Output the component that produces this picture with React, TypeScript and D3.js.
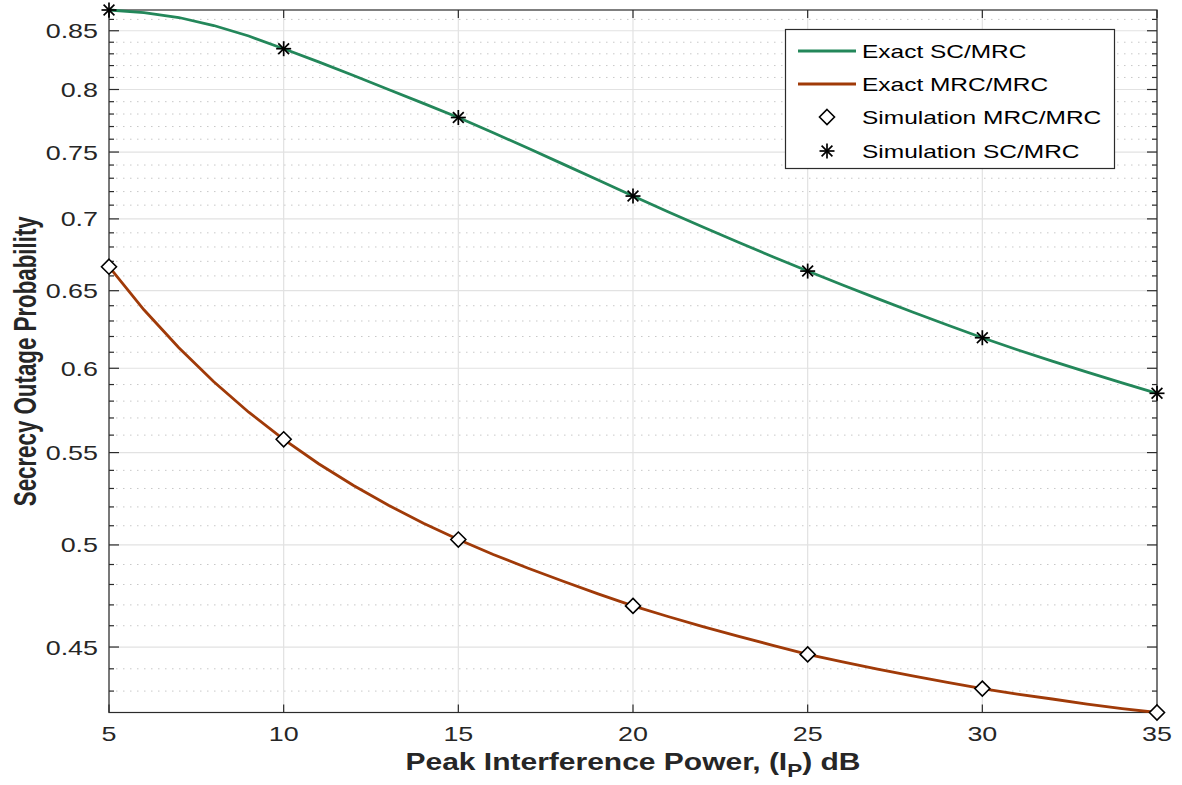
import React from "react";
import * as d3 from "d3";

// ---- data ----
const peakPower = [5, 6, 7, 8, 9, 10, 11, 12, 13, 14, 15, 16, 17, 18, 19, 20, 21, 22, 23, 24, 25, 26, 27, 28, 29, 30, 31, 32, 33, 34, 35];
const exactSC = [0.8684, 0.8661, 0.8617, 0.8546, 0.8454, 0.8344, 0.8231, 0.8116, 0.8000, 0.7886, 0.7772, 0.7651, 0.7529, 0.7407, 0.7286, 0.7167, 0.7052, 0.6942, 0.6835, 0.6732, 0.6633, 0.6538, 0.6447, 0.6359, 0.6274, 0.6192, 0.6116, 0.6044, 0.5976, 0.5910, 0.5847];
const exactMRC = [0.6663, 0.6373, 0.6128, 0.5917, 0.5734, 0.5576, 0.5437, 0.5316, 0.5209, 0.5113, 0.5028, 0.4951, 0.4881, 0.4816, 0.4754, 0.4695, 0.4644, 0.4596, 0.4551, 0.4508, 0.4466, 0.4432, 0.4399, 0.4368, 0.4339, 0.4311, 0.4287, 0.4265, 0.4243, 0.4223, 0.4206];
const simPower = [5, 10, 15, 20, 25, 30, 35];
const simMRC = [0.6663, 0.5576, 0.5028, 0.4695, 0.4466, 0.4311, 0.4206];
const simSC = [0.8684, 0.8344, 0.7772, 0.7167, 0.6633, 0.6192, 0.5847];

const xTicks = [5, 10, 15, 20, 25, 30, 35];
const yTicks = [0.45, 0.5, 0.55, 0.6, 0.65, 0.7, 0.75, 0.8, 0.85];
const yTickLabels = ["0.45", "0.5", "0.55", "0.6", "0.65", "0.7", "0.75", "0.8", "0.85"];
const yMinorTicks = [0.43, 0.44, 0.46, 0.47, 0.48, 0.49, 0.51, 0.52, 0.53, 0.54, 0.56, 0.57, 0.58, 0.59, 0.61, 0.62, 0.63, 0.64, 0.66, 0.67, 0.68, 0.69, 0.71, 0.72, 0.73, 0.74, 0.76, 0.77, 0.78, 0.79, 0.81, 0.82, 0.83, 0.84, 0.86];
const yDomain = [0.4206, 0.8684];
const xDomain = [5, 35];

const legendLabels = ["Exact SC/MRC", "Exact MRC/MRC", "Simulation MRC/MRC", "Simulation SC/MRC"];
const xLabel = "Peak Interference Power, (I";
const yLabel = "Secrecy Outage Probability";

// ---- style ----
const W = 1182;
const H = 785;
const L = 109, R = 1157, T = 10, B = 712.5;
const GREEN = "#23875a";
const BROWN = "#a03a08";
const AXIS = "#2b2b2b";
const FONT = "'Liberation Sans', Arial, Helvetica, sans-serif";
const SX = 1.28;

function Diamond({ x, y }: { x: number; y: number }) {
  const r = 7.5;
  return (
    <path
      d={`M${x},${y - r}L${x + r},${y}L${x},${y + r}L${x - r},${y}Z`}
      fill="#fff"
      stroke="#000"
      strokeWidth={1.6}
    />
  );
}

function Star({ x, y }: { x: number; y: number }) {
  const r = 7.5;
  const d = r * 0.72;
  return (
    <g stroke="#000" strokeWidth={1.7}>
      <line x1={x - r} y1={y} x2={x + r} y2={y} />
      <line x1={x} y1={y - r} x2={x} y2={y + r} />
      <line x1={x - d} y1={y - d} x2={x + d} y2={y + d} />
      <line x1={x - d} y1={y + d} x2={x + d} y2={y - d} />
    </g>
  );
}

export default function App() {
  const x = d3.scaleLinear().domain(xDomain).range([L, R]);
  const y = d3.scaleLog().domain(yDomain).range([B, T]);

  const line = d3
    .line<number>()
    .x((_, i) => x(peakPower[i]))
    .y((v) => y(v));

  const legX = 785.5, legY = 29.5, legW = 329, legH = 139;
  const rowY = [51, 84, 117, 151];

  return (
    <svg
      width={W}
      height={H}
      style={{ position: "absolute", left: 0, top: 0, background: "#fff" }}
      fontFamily={FONT}
    >
      <rect x={0} y={0} width={W} height={H} fill="#fff" />
      {/* minor grid */}
      {yMinorTicks.map((t) => (
        <line key={"mg" + t} x1={L} x2={R} y1={y(t)} y2={y(t)} stroke="#c8c8c8" strokeWidth={1} strokeDasharray="1.5,5.5" />
      ))}
      {/* major grid */}
      {yTicks.map((t) => (
        <line key={"yg" + t} x1={L} x2={R} y1={y(t)} y2={y(t)} stroke="#e2e2e2" strokeWidth={1.2} />
      ))}
      {xTicks.map((t) => (
        <line key={"xg" + t} x1={x(t)} x2={x(t)} y1={T} y2={B} stroke="#e2e2e2" strokeWidth={1.2} />
      ))}

      {/* axes box */}
      <rect x={L} y={T} width={R - L} height={B - T} fill="none" stroke={AXIS} strokeWidth={1.2} />
      {xTicks.map((t) => (
        <g key={"xt" + t} stroke={AXIS} strokeWidth={1.2}>
          <line x1={x(t)} x2={x(t)} y1={B} y2={B - 8} />
          <line x1={x(t)} x2={x(t)} y1={T} y2={T + 8} />
        </g>
      ))}
      {yTicks.map((t) => (
        <g key={"yt" + t} stroke={AXIS} strokeWidth={1.2}>
          <line x1={L} x2={L + 10} y1={y(t)} y2={y(t)} />
          <line x1={R} x2={R - 10} y1={y(t)} y2={y(t)} />
        </g>
      ))}
      {yMinorTicks.map((t) => (
        <g key={"ym" + t} stroke={AXIS} strokeWidth={1.2}>
          <line x1={L} x2={L + 5} y1={y(t)} y2={y(t)} />
          <line x1={R} x2={R - 5} y1={y(t)} y2={y(t)} />
        </g>
      ))}

      {/* tick labels */}
      {xTicks.map((t) => (
        <text
          key={"xl" + t}
          transform={`translate(${x(t)},${741}) scale(${SX},1)`}
          textAnchor="middle"
          fontSize={21}
          fill="#262626"
        >
          {t}
        </text>
      ))}
      {yTicks.map((t, i) => (
        <text
          key={"yl" + t}
          transform={`translate(${98},${y(t) + 7.5}) scale(${SX},1)`}
          textAnchor="end"
          fontSize={21}
          fill="#262626"
        >
          {yTickLabels[i]}
        </text>
      ))}

      {/* axis labels */}
      <text
        transform={`translate(${(L + R) / 2},${770}) scale(1.25,1)`}
        textAnchor="middle"
        fontSize={24}
        fontWeight="bold"
        fill="#262626"
      >
        {xLabel}
        <tspan fontSize={18} dy={7}>P</tspan>
        <tspan dy={-7}>) dB</tspan>
      </text>
      <text
        transform={`translate(${36},${(T + B) / 2}) scale(1.4,1) rotate(-90)`}
        textAnchor="middle"
        fontSize={22}
        fontWeight="bold"
        fill="#262626"
        textLength={290}
        lengthAdjust="spacingAndGlyphs"
      >
        {yLabel}
      </text>

      {/* curves */}
      <path d={line(exactSC) || ""} fill="none" stroke={GREEN} strokeWidth={2.8} />
      <path d={line(exactMRC) || ""} fill="none" stroke={BROWN} strokeWidth={2.8} />

      {simPower.map((p, i) => (
        <Diamond key={"d" + p} x={x(p)} y={y(simMRC[i])} />
      ))}
      {simPower.map((p, i) => (
        <Star key={"s" + p} x={x(p)} y={y(simSC[i])} />
      ))}

      {/* legend */}
      <rect x={legX} y={legY} width={legW} height={legH} fill="#fff" stroke={AXIS} strokeWidth={1.2} />
      <line x1={798} x2={856} y1={rowY[0]} y2={rowY[0]} stroke={GREEN} strokeWidth={2.8} />
      <line x1={798} x2={856} y1={rowY[1]} y2={rowY[1]} stroke={BROWN} strokeWidth={2.8} />
      <Diamond x={827} y={rowY[2]} />
      <Star x={827} y={rowY[3]} />
      {legendLabels.map((lab, i) => (
        <text
          key={lab}
          transform={`translate(${862},${rowY[i] + 6.5}) scale(1.36,1)`}
          fontSize={18}
          fill="#000"
        >
          {lab}
        </text>
      ))}
    </svg>
  );
}
